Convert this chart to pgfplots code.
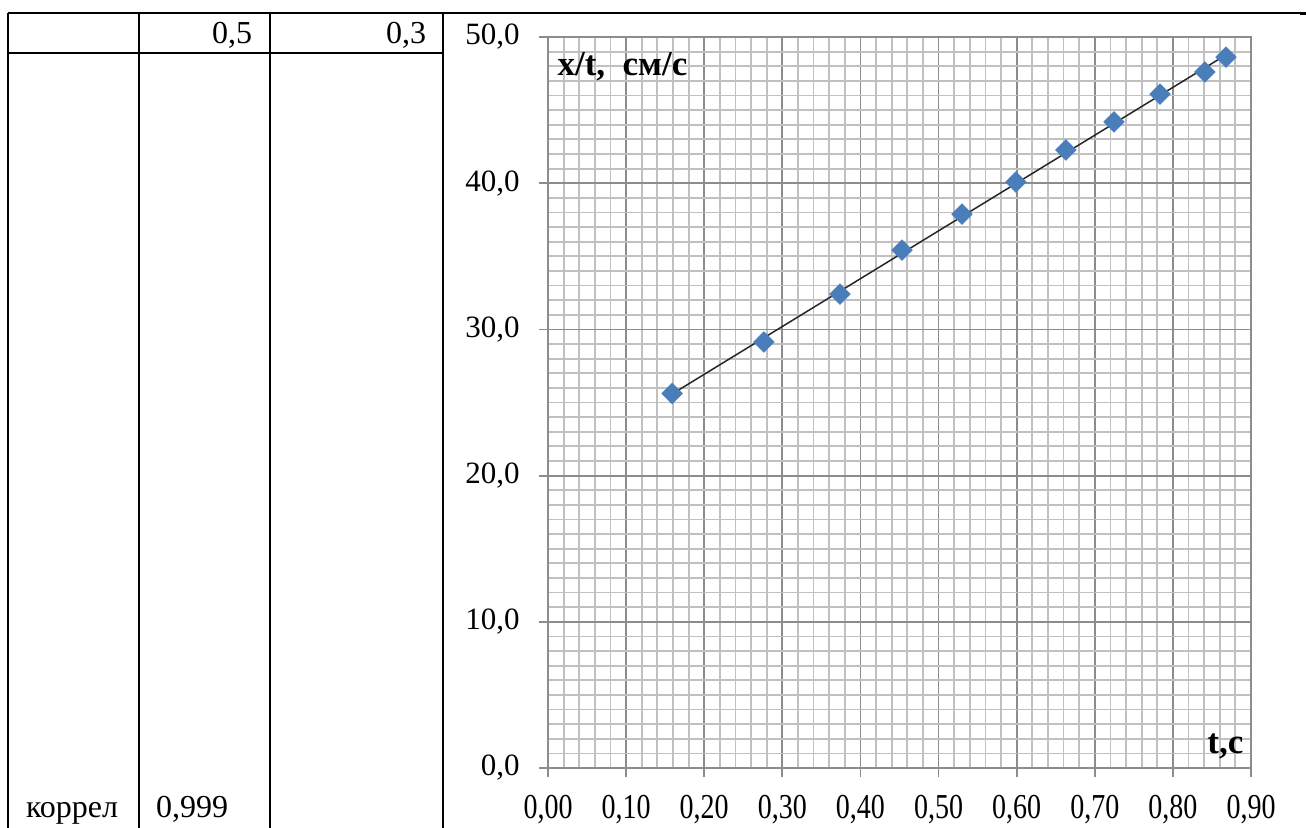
\documentclass[border=0pt]{standalone}
\usepackage{fontspec}
\setmainfont{Liberation Serif}
\newfontfamily\narrowfont[FakeStretch=0.8]{Liberation Serif}
\usepackage{pgfplots}
\pgfplotsset{compat=1.18}
\definecolor{mk}{HTML}{4A7EBB}
\definecolor{majg}{HTML}{8C8C8C}
\definecolor{ming}{HTML}{C0C0C0}
\begin{document}
\begin{tikzpicture}
\useasboundingbox (0,0) rectangle (653pt,-413.5pt);
\begin{scope}[x=0.5pt,y=-0.5pt,line width=1pt]
\draw (8,13) -- (1300,13);
\draw[line width=1.5pt] (1300,13) -- (1306,13);
\draw (8,53) -- (443,53);
\foreach \xx in {8,139,270,443} {\draw (\xx,13) -- (\xx,830);}
\node[anchor=base east,inner sep=0pt,font=\fontsize{16}{16}\selectfont] at (253,43) {0,5};
\node[anchor=base east,inner sep=0pt,font=\fontsize{16}{16}\selectfont] at (427,43) {0,3};
\node[anchor=base west,inner sep=0pt,font=\fontsize{16}{16}\selectfont] at (25,817) {коррел};
\node[anchor=base west,inner sep=0pt,font=\fontsize{16}{16}\selectfont] at (155,817) {0,999};
\end{scope}
\begin{axis}[
  at={(274pt,-384pt)}, anchor=south west,
  scale only axis, width=351.5pt, height=365.5pt,
  xmin=0, xmax=0.9, ymin=0, ymax=50,
  xtick={0,0.1,0.2,0.3,0.4,0.5,0.6,0.7,0.8,0.9},
  ytick={0,10,20,30,40,50},
  minor x tick num=4, minor y tick num=9,
  grid=both,
  major grid style={draw=majg, line width=0.9pt},
  minor grid style={draw=ming, line width=0.9pt},
  axis line style={draw=majg, line width=0.9pt},
  tick align=outside, tick pos=left,
  major tick length=4.5pt, minor tick length=0pt,
  tick style={draw=majg, line width=0.9pt},
  /pgf/number format/assume math mode=true,
  /pgf/number format/use comma,
  /pgf/number format/1000 sep={},
  xticklabel style={/pgf/number format/fixed, /pgf/number format/fixed zerofill, /pgf/number format/precision=2,
    font=\narrowfont\fontsize{17.5}{17.5}\selectfont, anchor=north, inner sep=0pt, yshift=-9pt},
  yticklabel style={/pgf/number format/fixed, /pgf/number format/fixed zerofill, /pgf/number format/precision=1,
    font=\fontsize{15.5}{15.5}\selectfont, anchor=east, inner sep=0pt, xshift=-9.5pt},
  axis on top=false, clip=false,
]
\addplot[only marks, mark=square*, mark size=3.6pt, mark options={rotate=45, fill=mk, draw=mk}]
coordinates {
(0.1588,25.62) (0.2765,29.14) (0.3738,32.42) (0.4532,35.43) (0.530,37.89) (0.599,40.08)
(0.663,42.27) (0.7246,44.19) (0.7835,46.10) (0.841,47.61) (0.868,48.63)
};
\addplot[black!85, line width=0.75pt, no marks] coordinates {(0.1588,25.58) (0.868,48.78)};
\node[anchor=base west, inner sep=0pt, font=\bfseries\fontsize{17.5}{17.5}\selectfont] at (rel axis cs:0.013,0.948) {x/t,\ \ см/с};
\node[anchor=base west, inner sep=0pt, font=\bfseries\fontsize{17.5}{17.5}\selectfont] at (rel axis cs:0.9374,0.0205) {t,с};
\end{axis}
\end{tikzpicture}
\end{document}
